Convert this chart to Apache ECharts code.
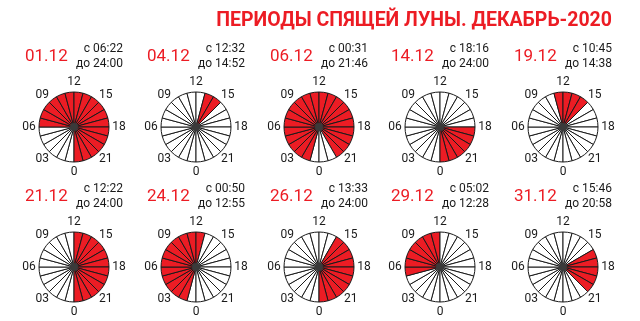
<!DOCTYPE html>
<html><head><meta charset="utf-8">
<script src="https://cdn.jsdelivr.net/npm/echarts@6/dist/echarts.min.js"></script>
<style>html,body{margin:0;padding:0;background:#fff}#c{width:640px;height:321px}</style>
</head><body><div id="c"></div>
<script>
const titleText = 'ПЕРИОДЫ СПЯЩЕЙ ЛУНЫ. ДЕКАБРЬ-2020';
const dates = ['01.12','04.12','06.12','14.12','19.12','21.12','24.12','26.12','29.12','31.12'];
const starts = ['06:22','12:32','00:31','18:16','10:45','12:22','00:50','13:33','05:02','15:46'];
const ends = ['24:00','14:52','21:46','24:00','14:38','24:00','12:55','24:00','12:28','20:58'];
const hourLabels = ['0','03','06','09','12','15','18','21'];

const RED = '#ec1c24';
const colX = [74, 196, 319, 440, 563];
const rowY = [127, 267];
const FONT = 'Roboto, "Noto Sans", sans-serif';

function toHour(s){ const p = s.split(':'); return Math.round(+p[0] + (+p[1])/60); }

const series = [];
const graphics = [];
dates.forEach((d, i) => {
  const cx = colX[i % 5], cy = rowY[Math.floor(i / 5)];
  const h0 = toHour(starts[i]), h1 = toHour(ends[i]);
  const data = [];
  for (let h = 0; h < 24; h++) {
    const on = h >= h0 && h < h1;
    data.push({ value: 1, name: String(h), itemStyle: { color: on ? RED : '#fff' } });
  }
  series.push({
    type: 'pie', center: [cx, cy], radius: [0, 35], startAngle: 270, clockwise: true,
    silent: true, animation: false, label: { show: false }, labelLine: { show: false },
    itemStyle: { borderColor: '#1a1a1a', borderWidth: 1 }, data
  });
  series.push({
    type: 'pie', center: [cx, cy], radius: [0, 4], silent: true, animation: false,
    label: { show: false }, labelLine: { show: false },
    itemStyle: { color: '#3a3a3a' }, data: [{ value: 1 }]
  });
  series.push({
    type: 'pie', center: [cx, cy], radius: [34, 50], startAngle: 292.5, clockwise: true,
    silent: true, animation: false, labelLine: { show: false },
    itemStyle: { color: 'rgba(0,0,0,0)', borderWidth: 0 },
    label: { show: true, position: 'inside', color: '#1a1a1a', fontSize: 12, fontFamily: FONT, formatter: '{b}' },
    data: hourLabels.map(t => ({ value: 1, name: t }))
  });
  const ty = cy - 70;
  graphics.push({ type: 'text', x: cx - 49, y: ty, style: { text: d, fill: RED, font: '17px ' + FONT, textAlign: 'left', textVerticalAlign: 'middle' } });
  graphics.push({ type: 'text', x: cx + 49, y: ty - 8, style: { text: 'с ' + starts[i], fill: '#1a1a1a', font: '12px ' + FONT, textAlign: 'right', textVerticalAlign: 'middle' } });
  graphics.push({ type: 'text', x: cx + 49, y: ty + 7, style: { text: 'до ' + ends[i], fill: '#1a1a1a', font: '12px ' + FONT, textAlign: 'right', textVerticalAlign: 'middle' } });
});
graphics.push({ type: 'text', x: 612, y: 21, style: { text: titleText, fill: RED, font: 'bold 19.5px ' + FONT, textAlign: 'right', textVerticalAlign: 'middle' } });

const chart = echarts.init(document.getElementById('c'), null, { renderer: 'canvas' });
chart.setOption({ animation: false, backgroundColor: '#fff', series, graphic: graphics });
</script></body></html>
